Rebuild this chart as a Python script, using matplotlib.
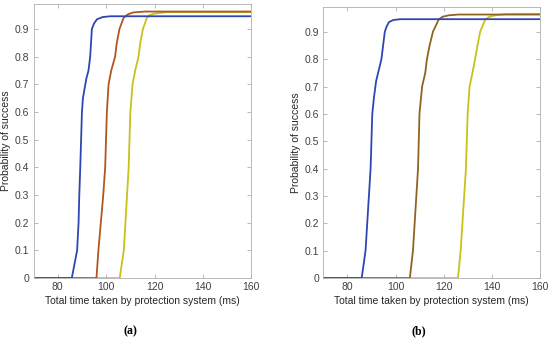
import numpy as np
import matplotlib.pyplot as plt

# Data, panel (a)
t_blue_a = [70, 85.8, 88.0, 88.6, 88.9, 89.3, 90.0, 90.4, 91.8, 92.7, 93.4, 94.1, 95.0, 96.2, 98.5, 101.7, 160]
p_blue_a = [0, 0, 0.1, 0.2, 0.3, 0.4, 0.6, 0.65, 0.72, 0.75, 0.8, 0.9, 0.92, 0.935, 0.943, 0.946, 0.946]
t_brown_a = [70, 96.0, 96.8, 98.8, 99.6, 100.3, 101.0, 102.1, 103.7, 104.4, 105.5, 107.2, 109.0, 111.3, 116, 160]
p_brown_a = [0, 0, 0.1, 0.3, 0.4, 0.6, 0.7, 0.75, 0.8, 0.85, 0.9, 0.94, 0.953, 0.96, 0.963, 0.963]
t_yellow_a = [70, 105.6, 107.3, 109.3, 110.0, 110.9, 112.0, 113.4, 114.1, 115.2, 116.8, 118.0, 119.6, 125, 160]
p_yellow_a = [0, 0, 0.1, 0.4, 0.6, 0.7, 0.75, 0.8, 0.85, 0.9, 0.94, 0.95, 0.955, 0.961, 0.961]

# panel (b)
t_blue_b = [70, 85.9, 87.5, 88.9, 89.6, 90.3, 91.0, 91.9, 94.1, 95.5, 96.3, 97.2, 99.0, 102, 160]
p_blue_b = [0, 0, 0.1, 0.3, 0.4, 0.6, 0.66, 0.72, 0.8, 0.9, 0.92, 0.935, 0.943, 0.946, 0.946]
t_brown_b = [70, 105.9, 107.2, 109.3, 109.9, 111.0, 112.3, 113.0, 114.1, 115.5, 117.9, 119.5, 122, 126, 160]
p_brown_b = [0, 0, 0.1, 0.4, 0.6, 0.7, 0.75, 0.8, 0.85, 0.9, 0.945, 0.955, 0.96, 0.963, 0.963]
t_yellow_b = [70, 125.9, 127.0, 129.2, 129.9, 130.7, 131.9, 133.0, 134.0, 135.1, 137.2, 139.0, 141.3, 146, 160]
p_yellow_b = [0, 0, 0.1, 0.4, 0.6, 0.7, 0.75, 0.8, 0.85, 0.9, 0.945, 0.955, 0.96, 0.965, 0.965]

blue = '#2F46B2'
brown_a = '#B0561E'
brown_b = '#8E6420'
yellow = '#C8C21A'

plt.rcParams['font.family'] = 'Liberation Sans'
fig = plt.figure(figsize=(5.5, 3.4), dpi=100)
ax1 = fig.add_axes([0.061, 0.182, 0.396, 0.806])
ax2 = fig.add_axes([0.588, 0.182, 0.394, 0.797])

panels = [
    (ax1, (t_blue_a, p_blue_a), (t_brown_a, p_brown_a), (t_yellow_a, p_yellow_a), brown_a),
    (ax2, (t_blue_b, p_blue_b), (t_brown_b, p_brown_b), (t_yellow_b, p_yellow_b), brown_b),
]

for ax, b, r, y, rc in panels:
    ax.plot(y[0], y[1], color=yellow, lw=1.3)
    ax.plot(r[0], r[1], color=rc, lw=1.3)
    ax.plot(b[0], b[1], color=blue, lw=1.3)
    ax.set_xlim(70, 160)
    ax.set_ylim(0, 0.99)
    ax.set_xticks([80, 100, 120, 140, 160])
    ax.set_yticks(np.arange(0, 1.0, 0.1))
    ax.set_yticklabels(['0', '0.1', '0.2', '0.3', '0.4', '0.5', '0.6', '0.7', '0.8', '0.9'])
    ax.tick_params(direction='in', top=True, right=True, labelsize=7.5, length=3,
                   width=0.6, colors='#B0B0B0', labelcolor='#404040', pad=3)
    for s in ax.spines.values():
        s.set_color('#B0B0B0')
        s.set_linewidth(0.6)
    ax.set_xlabel('Total time taken by protection system (ms)', fontsize=7.5, color='#262626', labelpad=3)
    ax.set_ylabel('Probability of success', fontsize=7.5, color='#262626', labelpad=3)

# panel tags
fig.text(130 / 550, 1 - 331 / 340, '(a)', ha='center', va='center',
         fontsize=8.5, fontweight='bold', family='Liberation Serif')
fig.text(419 / 550, 1 - 331 / 340, '(b)', ha='center', va='center',
         fontsize=8.5, fontweight='bold', family='Liberation Serif')

fig.savefig('out.png', dpi=100)
